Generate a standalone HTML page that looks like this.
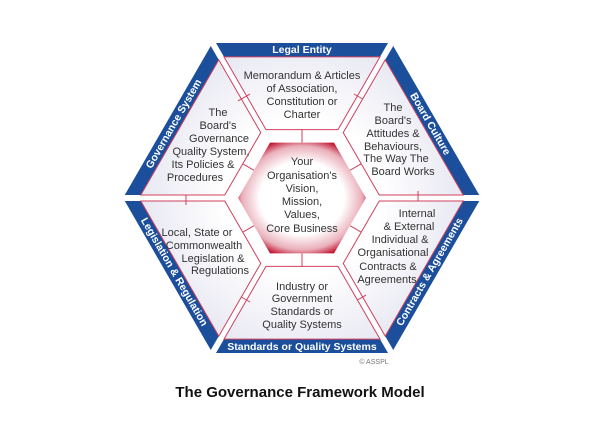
<!DOCTYPE html>
<html><head><meta charset="utf-8"><style>
html,body{margin:0;padding:0;background:#fff;}
svg{display:block;}
</style></head><body>
<svg width="600" height="424" viewBox="0 0 600 424" xmlns="http://www.w3.org/2000/svg" font-family="Liberation Sans, Arial, sans-serif">
<defs>
<radialGradient id="seg" gradientUnits="userSpaceOnUse" cx="302" cy="198" r="175">
<stop offset="0.45" stop-color="#ffffff"/><stop offset="1" stop-color="#e4e4f0"/>
</radialGradient>
<radialGradient id="ctr" cx="0.5" cy="0.5" r="0.55">
<stop offset="0.6" stop-color="#ffffff"/><stop offset="0.85" stop-color="#eab0bb"/><stop offset="1" stop-color="#c0102c"/>
</radialGradient>
<g id="sector">
<polygon points="216,43 388,43 380,56.9 224,56.9" fill="#1b4f9c"/>
<polygon points="224,56.9 380,56.9 338,129.6 266,129.6" fill="url(#seg)" stroke="#d0405e" stroke-width="1"/>
<line x1="302" y1="129.6" x2="302" y2="142.6" stroke="#d0405e" stroke-width="1"/>
<line x1="354" y1="94" x2="366" y2="101" stroke="#d0405e" stroke-width="1"/>
</g>
</defs>
<use href="#sector"/>
<use href="#sector" transform="rotate(60 302 198)"/>
<use href="#sector" transform="rotate(120 302 198)"/>
<use href="#sector" transform="rotate(180 302 198)"/>
<use href="#sector" transform="rotate(240 302 198)"/>
<use href="#sector" transform="rotate(300 302 198)"/>
<polygon points="366,198 334,253.4 270,253.4 238,198 270,142.6 334,142.6" fill="url(#ctr)"/>

<g fill="#fff" font-weight="bold" font-size="10.5" text-anchor="middle" dominant-baseline="central">
<text x="302" y="50">Legal Entity</text>
<text transform="translate(430,124) rotate(60)">Board Culture</text>
<text transform="translate(430,272) rotate(-60)">Contracts &amp; Agreements</text>
<text x="302" y="347">Standards or Quality Systems</text>
<text transform="translate(174,272) rotate(60)">Legislation &amp; Regulation</text>
<text transform="translate(174,124) rotate(-60)">Governance System</text>
</g>

<g fill="#333" font-size="11" text-anchor="middle">
<text x="302" y="79">Memorandum &amp; Articles</text>
<text x="302" y="92">of Association,</text>
<text x="302" y="105">Constitution or</text>
<text x="302" y="118">Charter</text>

<text x="218" y="116">The</text>
<text x="218" y="129">Board's</text>
<text x="219" y="142">Governance</text>
<text x="211" y="155">Quality System,</text>
<text x="203" y="168">Its Policies &amp;</text>
<text x="195" y="181">Procedures</text>

<text x="393" y="111">The</text>
<text x="393" y="124">Board's</text>
<text x="393" y="137">Attitudes &amp;</text>
<text x="393" y="150">Behaviours,</text>
<text x="396" y="162">The Way The</text>
<text x="403" y="175">Board Works</text>

<text x="302" y="165">Your</text>
<text x="302" y="179">Organisation's</text>
<text x="302" y="192">Vision,</text>
<text x="302" y="205">Mission,</text>
<text x="302" y="218">Values,</text>
<text x="302" y="232">Core Business</text>

<text x="197" y="236">Local, State or</text>
<text x="204" y="249">Commonwealth</text>
<text x="213" y="262">Legislation &amp;</text>
<text x="220" y="274">Regulations</text>

<text x="417" y="217">Internal</text>
<text x="409" y="230">&amp; External</text>
<text x="400" y="243">Individual &amp;</text>
<text x="393" y="256">Organisational</text>
<text x="388" y="270">Contracts &amp;</text>
<text x="387" y="283">Agreements</text>

<text x="302" y="290">Industry or</text>
<text x="302" y="302">Government</text>
<text x="302" y="315">Standards or</text>
<text x="302" y="328">Quality Systems</text>
</g>
<text x="374" y="364" font-size="7" fill="#777" text-anchor="middle">© ASSPL</text>
<text x="300" y="397" font-size="15" font-weight="bold" fill="#111" text-anchor="middle">The Governance Framework Model</text>
</svg>
</body></html>
